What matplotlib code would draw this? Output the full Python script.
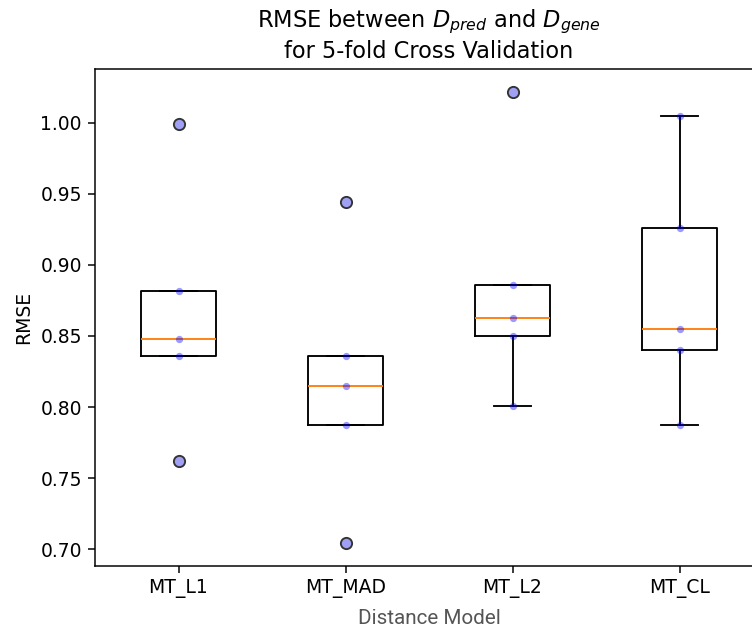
"""Boxplot of cross-validation RMSE per distance model."""

import matplotlib

matplotlib.use("Agg")

import matplotlib.pyplot as plt

DPI = 135

models = ["MT_L1", "MT_MAD", "MT_L2", "MT_CL"]
rmse_mt_l1 = [0.999, 0.882, 0.848, 0.836, 0.762]
rmse_mt_mad = [0.944, 0.836, 0.815, 0.787, 0.704]
rmse_mt_l2 = [1.022, 0.886, 0.863, 0.850, 0.801]
rmse_mt_cl = [1.005, 0.926, 0.855, 0.840, 0.787]

data = [rmse_mt_l1, rmse_mt_mad, rmse_mt_l2, rmse_mt_cl]

fig = plt.figure(figsize=(752 / DPI, 631 / DPI), dpi=DPI)
# the reference is cropped on the right, so the axes run past the figure edge
axis = fig.add_axes([95 / 752, 65 / 631, 668 / 752, 497 / 631])
axis.boxplot(data, flierprops=dict(markerfacecolor="#a0a0f4",
                                   markeredgecolor="#333333", zorder=4))
for position, values in enumerate(data, start=1):
    axis.scatter([position] * len(values), values, color="blue", alpha=0.4,
                 s=15, zorder=3, linewidths=0)

axis.set_xticks(range(1, len(models) + 1))
axis.set_xticklabels(models)
axis.set_title(r"RMSE between $D_{pred}$ and $D_{gene}$" + "\n"
               + "for 5-fold Cross Validation", fontsize=12)
axis.set_xlabel("Distance Model", family="Roboto", color="#555555",
                fontsize=11, labelpad=6)
axis.set_ylabel("RMSE")

fig.savefig("out.png", dpi=DPI)
plt.close(fig)
